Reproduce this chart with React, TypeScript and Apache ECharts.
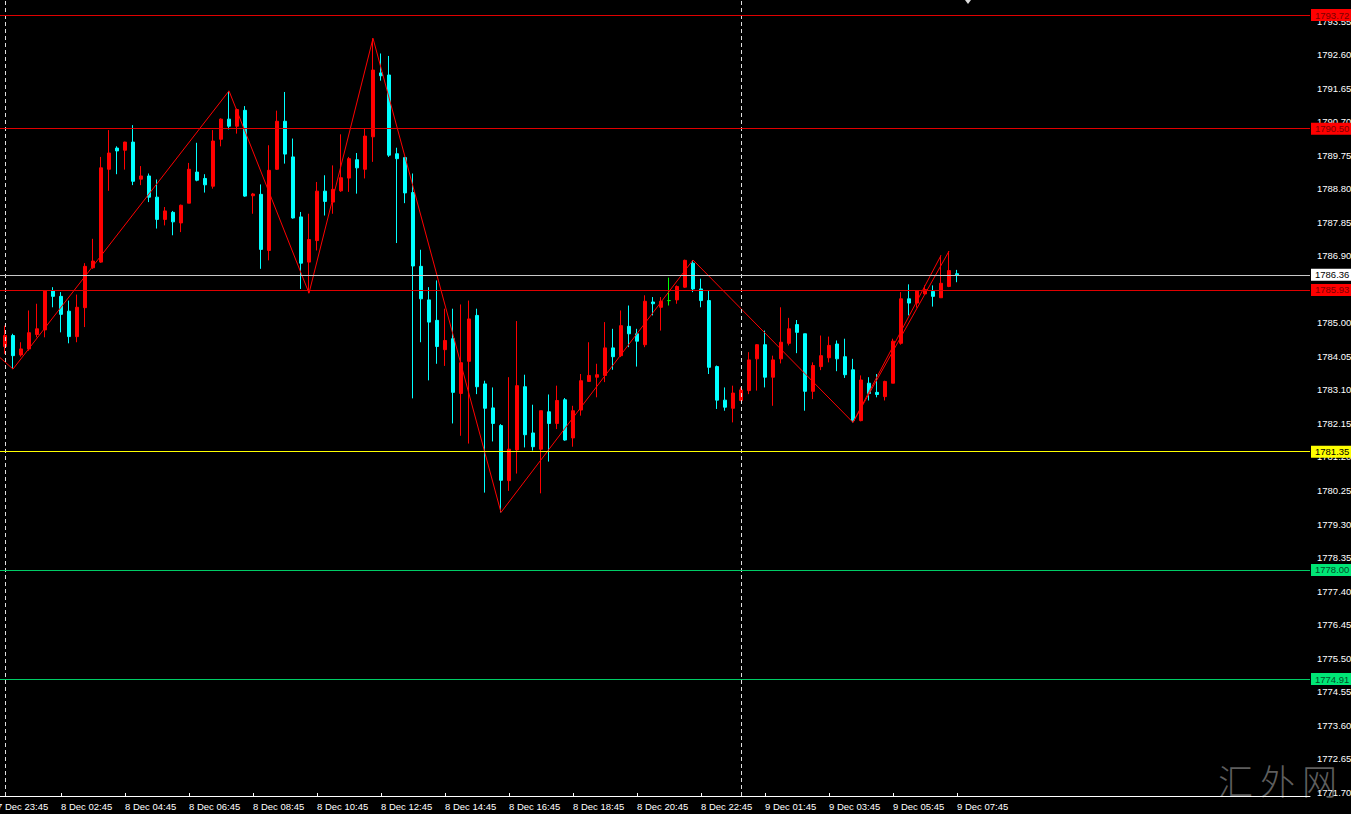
import React, { useEffect, useRef } from "react";
import * as echarts from "echarts";

// candle index 1 = 8 Dec 01:00 (index 0 = 7 Dec 23:45), M15 bars
const firstIndex = 1;
const opens = [
  1784.33, 1784.64, 1784.09, 1784.26, 1784.67, 1784.80, 1785.90, 1785.75, 1785.33, 1784.61,
  1785.43, 1786.56, 1786.72, 1789.35, 1789.95, 1789.89, 1790.12, 1789.07, 1789.16, 1788.56,
  1787.93, 1788.13, 1787.83, 1788.39, 1789.27, 1789.09, 1788.87, 1790.20, 1790.77, 1790.57,
  1791.02, 1788.60, 1788.64, 1787.05, 1789.35, 1790.71, 1789.70, 1788.00, 1786.72, 1787.33,
  1788.73, 1788.42, 1788.74, 1789.10, 1789.62, 1789.35, 1790.27, 1792.08, 1792.02, 1789.79,
  1789.68, 1788.69, 1786.60, 1785.65, 1785.07, 1784.24, 1784.55, 1783.00, 1783.91, 1785.21,
  1783.27, 1782.59, 1782.09, 1780.53, 1781.40, 1783.19, 1781.88, 1781.42, 1782.48, 1782.15,
  1782.82, 1781.74, 1782.53, 1783.34, 1783.46, 1783.51, 1784.29, 1784.07, 1784.90, 1784.69,
  1784.38, 1785.59, 1785.44, 1785.63, 1785.65, 1786.01, 1786.69, 1785.96, 1785.63, 1783.76,
  1782.81, 1782.58, 1782.80, 1783.08, 1783.98, 1784.38, 1783.46, 1783.98, 1784.42, 1784.95,
  1784.69, 1783.06, 1783.76, 1784.01, 1784.40, 1784.04, 1783.67, 1782.23, 1783.29, 1783.03,
  1782.91, 1783.29, 1784.42, 1785.68, 1785.56, 1785.82, 1785.89, 1785.71, 1786.03, 1786.39,
];
const closes = [
  1784.64, 1784.07, 1784.26, 1784.72, 1784.83, 1785.90, 1785.75, 1785.24, 1784.61, 1785.44,
  1786.60, 1786.75, 1789.39, 1789.81, 1789.87, 1790.12, 1789.01, 1789.16, 1788.56, 1787.93,
  1788.17, 1787.86, 1788.33, 1789.35, 1789.04, 1788.91, 1790.15, 1790.77, 1790.57, 1791.04,
  1788.59, 1788.65, 1787.08, 1789.32, 1790.71, 1789.78, 1787.97, 1786.69, 1787.36, 1788.73,
  1788.44, 1788.78, 1789.11, 1789.65, 1789.39, 1790.29, 1792.16, 1792.00, 1789.75, 1789.65,
  1788.68, 1786.61, 1785.68, 1785.02, 1784.33, 1784.50, 1783.03, 1783.87, 1785.11, 1783.19,
  1782.58, 1782.15, 1780.54, 1781.42, 1783.22, 1781.83, 1781.49, 1782.51, 1782.15, 1782.80,
  1781.68, 1782.51, 1783.36, 1783.51, 1783.53, 1784.29, 1784.04, 1784.92, 1784.69, 1784.48,
  1785.61, 1785.54, 1785.61, 1785.63, 1786.03, 1786.77, 1785.96, 1785.63, 1783.74, 1782.81,
  1782.61, 1783.01, 1783.10, 1783.95, 1784.38, 1783.46, 1783.95, 1784.45, 1784.83, 1784.73,
  1783.06, 1783.79, 1784.07, 1784.36, 1783.98, 1783.53, 1782.23, 1783.38, 1783.00, 1782.97,
  1783.34, 1784.48, 1785.68, 1785.56, 1785.90, 1785.94, 1785.75, 1786.12, 1786.48, 1786.36,
];
const lows = [
  1784.12, 1783.69, 1784.04, 1784.21, 1784.59, 1784.59, 1785.44, 1784.73, 1784.42, 1784.45,
  1784.88, 1786.53, 1786.70, 1788.74, 1789.21, 1789.34, 1788.90, 1788.90, 1788.42, 1787.67,
  1787.76, 1787.48, 1787.57, 1788.39, 1789.01, 1788.69, 1788.80, 1790.00, 1790.48, 1790.36,
  1788.57, 1788.09, 1786.53, 1786.77, 1789.33, 1789.51, 1787.95, 1785.96, 1785.84, 1787.05,
  1788.04, 1788.09, 1788.71, 1788.71, 1788.66, 1789.09, 1789.56, 1791.86, 1789.70, 1787.26,
  1788.39, 1782.86, 1784.45, 1783.37, 1783.84, 1783.78, 1782.15, 1781.80, 1781.58, 1782.98,
  1780.19, 1781.64, 1779.63, 1780.24, 1780.73, 1781.47, 1781.38, 1780.17, 1781.07, 1781.99,
  1781.66, 1781.49, 1782.37, 1783.33, 1782.89, 1783.32, 1783.67, 1784.03, 1784.31, 1783.76,
  1784.31, 1785.21, 1784.78, 1785.49, 1785.54, 1785.99, 1785.87, 1785.44, 1783.55, 1782.56,
  1782.51, 1782.18, 1782.78, 1782.98, 1783.08, 1783.17, 1782.65, 1783.85, 1784.36, 1784.14,
  1782.51, 1782.84, 1783.66, 1783.88, 1783.63, 1783.44, 1782.18, 1782.21, 1782.80, 1782.89,
  1782.80, 1783.29, 1784.38, 1785.21, 1785.43, 1785.80, 1785.46, 1785.71, 1786.01, 1786.15,
];
const highs = [
  1784.92, 1784.69, 1784.45, 1785.35, 1785.54, 1785.92, 1786.01, 1785.87, 1785.63, 1785.80,
  1786.69, 1787.38, 1789.70, 1790.46, 1790.00, 1790.13, 1790.60, 1789.44, 1789.23, 1789.06,
  1788.28, 1788.17, 1788.35, 1789.53, 1790.10, 1789.21, 1790.46, 1790.79, 1791.57, 1791.07,
  1791.14, 1788.68, 1788.92, 1790.03, 1791.01, 1791.54, 1790.22, 1788.14, 1788.09, 1788.99,
  1789.18, 1789.46, 1790.34, 1789.70, 1789.81, 1790.50, 1793.06, 1792.63, 1792.56, 1789.96,
  1789.70, 1789.23, 1787.07, 1786.01, 1786.20, 1785.40, 1785.40, 1785.52, 1785.63, 1785.40,
  1783.36, 1783.17, 1782.13, 1783.46, 1785.05, 1783.53, 1782.68, 1782.51, 1782.97, 1783.22,
  1782.87, 1782.65, 1783.55, 1784.45, 1783.84, 1785.02, 1784.83, 1785.35, 1785.49, 1784.83,
  1785.78, 1785.73, 1785.73, 1786.28, 1786.06, 1786.79, 1786.78, 1786.25, 1785.92, 1783.79,
  1783.17, 1783.22, 1783.17, 1784.17, 1784.40, 1784.78, 1784.07, 1785.44, 1785.14, 1785.08,
  1784.69, 1783.88, 1784.64, 1784.61, 1784.50, 1784.55, 1783.98, 1783.51, 1783.46, 1783.55,
  1783.36, 1784.55, 1785.87, 1786.09, 1785.92, 1786.06, 1786.06, 1786.91, 1787.03, 1786.50,
];

const xTickIndex = [0, 8, 16, 24, 32, 40, 48, 56, 64, 72, 80, 88, 96, 104, 112, 120];
const xTickLabels = [
  "7 Dec 23:45", "8 Dec 02:45", "8 Dec 04:45", "8 Dec 06:45", "8 Dec 08:45", "8 Dec 10:45",
  "8 Dec 12:45", "8 Dec 14:45", "8 Dec 16:45", "8 Dec 18:45", "8 Dec 20:45", "8 Dec 22:45",
  "9 Dec 01:45", "9 Dec 03:45", "9 Dec 05:45", "9 Dec 07:45",
];
const yTickValues = [
  1793.55, 1792.6, 1791.65, 1790.7, 1789.75, 1788.8, 1787.85, 1786.9, 1785.95, 1785.0,
  1784.05, 1783.1, 1782.15, 1781.2, 1780.25, 1779.3, 1778.35, 1777.4, 1776.45, 1775.5,
  1774.55, 1773.6, 1772.65, 1771.7,
];
const zigzagIndex = [0, 2, 29, 39, 47, 63, 87, 107, 119];
const zigzagPrice = [1784.09, 1783.69, 1791.57, 1785.84, 1793.06, 1779.63, 1786.78, 1782.18, 1787.03];
const zigzagTailIndex = [107, 118];
const zigzagTailPrice = [1782.18, 1786.91];
const separatorIndex = [1, 93];
const levelValues = [1793.72, 1790.5, 1786.36, 1785.93, 1781.35, 1778.0, 1774.91];
const levelLineColors = ["#e00000", "#e00000", "#c8c8c8", "#e00000", "#ffff00", "#00cc66", "#00cc66"];
const levelBoxColors = ["#ff0000", "#ff0000", "#ffffff", "#ff0000", "#ffff00", "#00e676", "#00e676"];
const levelTextColors = ["#7a0000", "#7a0000", "#000000", "#7a0000", "#000000", "#004d26", "#004d26"];

const FONT = "'Liberation Sans', Arial, sans-serif";

export default function App() {
  const ref = useRef<HTMLDivElement>(null);
  useEffect(() => {
    const chart = echarts.init(ref.current!, null, { renderer: "svg" });
    const candles = opens.map((o, i) => [i + firstIndex, o, closes[i], lows[i], highs[i]]);
    const labelMap: Record<number, string> = {};
    xTickIndex.forEach((v, i) => (labelMap[v] = xTickLabels[i]));
    const option: any = {
      animation: false,
      backgroundColor: "#000000",
      grid: { left: -3, right: 41, top: 0, bottom: 18, containLabel: false, outerBoundsMode: "none" },
      xAxis: {
        type: "value",
        min: 0,
        max: 164.125,
        position: "bottom",
        axisLine: { show: true, lineStyle: { color: "#ffffff", width: 1 } },
        axisTick: { show: true, inside: true, length: 3, customValues: xTickIndex, lineStyle: { color: "#ffffff" } },
        axisLabel: {
          customValues: xTickIndex,
          formatter: (v: number) => labelMap[v] ?? "",
          align: "left",
          color: "#ffffff",
          fontSize: 9.5,
          fontFamily: FONT,
          margin: 5,
        },
        splitLine: { show: false },
      },
      yAxis: {
        type: "value",
        position: "right",
        min: 1771.596,
        max: 1794.145,
        axisLine: { show: true, lineStyle: { color: "#ffffff", width: 1 } },
        axisTick: { show: true, length: 3, customValues: yTickValues, lineStyle: { color: "#ffffff" } },
        axisLabel: {
          customValues: yTickValues,
          formatter: (v: number) => v.toFixed(2),
          color: "#ffffff",
          fontSize: 9.5,
          fontFamily: FONT,
          margin: 7,
        },
        splitLine: { show: false },
      },
      series: [
        {
          type: "candlestick",
          data: candles,
          barWidth: 4,
          itemStyle: {
            color: "#ff0000",
            color0: "#00ffff",
            borderColor: "#ff0000",
            borderColor0: "#00ffff",
            borderColorDoji: "#00ff00",
            borderWidth: 1,
          },
          markLine: {
            silent: true,
            symbol: ["none", "none"],
            animation: false,
            data: [
              ...separatorIndex.map((x) => ({
                xAxis: x,
                lineStyle: { color: "#e0e0e0", type: [4, 3], width: 1 },
                label: { show: false },
              })),
              ...levelValues.map((v, i) => ({
                yAxis: v,
                lineStyle: { color: levelLineColors[i], type: "solid", width: 1 },
                label: {
                  show: true,
                  position: "end",
                  distance: 1,
                  formatter: v.toFixed(2),
                  color: levelTextColors[i],
                  backgroundColor: levelBoxColors[i],
                  padding: [1, 4, 1, 4],
                  fontSize: 9.5,
                  fontFamily: FONT,
                },
              })),
            ],
          },
          z: 2,
        },
        {
          type: "line",
          data: zigzagIndex.map((x, i) => [x, zigzagPrice[i]]),
          symbol: "none",
          lineStyle: { color: "#ff0000", width: 1 },
          z: 3,
        },
        {
          type: "line",
          data: zigzagTailIndex.map((x, i) => [x, zigzagTailPrice[i]]),
          symbol: "none",
          lineStyle: { color: "#ff0000", width: 1 },
          z: 3,
        },
      ],
      graphic: [
        {
          type: "polygon",
          shape: { points: [[965, 0], [971, 0], [968, 4]] },
          style: { fill: "#dddddd" },
        },
        {
          type: "group",
          z: 10,
          children: ["汇", "外", "网"].map((ch, i) => ({
            type: "text",
            x: 1218 + i * 42,
            y: 762,
            style: {
              text: ch,
              fill: "#5e5e5e",
              fontSize: 35,
              fontWeight: 300,
              fontFamily: "'Noto Sans CJK SC', sans-serif",
            },
          })),
        },
      ],
    };
    chart.setOption(option);
    return () => chart.dispose();
  }, []);
  return (
    <div
      ref={ref}
      style={{ position: "fixed", left: 0, top: 0, width: 1351, height: 814, background: "#000" }}
    />
  );
}
